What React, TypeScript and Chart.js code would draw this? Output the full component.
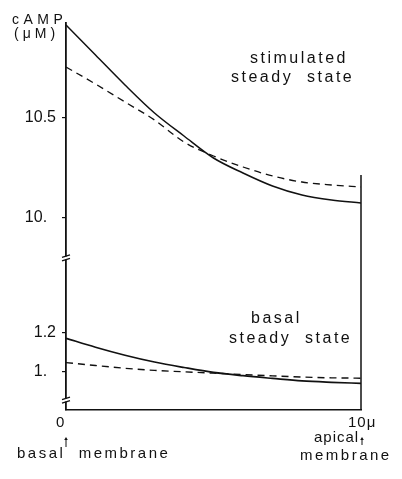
import React, { useEffect, useRef } from 'react';
import { Chart, registerables } from 'chart.js';

Chart.register(...registerables);

// ---- data ----
const positions = [0, 1, 2, 3, 4, 5, 6, 7, 8, 9, 10];
const stimulatedSolid = [10.965, 10.815, 10.665, 10.525, 10.41, 10.3, 10.225, 10.16, 10.115, 10.09, 10.075];
const stimulatedDashed = [10.755, 10.67, 10.58, 10.49, 10.38, 10.31, 10.255, 10.21, 10.18, 10.165, 10.155];
const basalSolid = [1.173, 1.127, 1.086, 1.051, 1.023, 0.998, 0.981, 0.967, 0.954, 0.947, 0.942];
const basalDashed = [1.048, 1.033, 1.019, 1.008, 1.001, 0.994, 0.987, 0.98, 0.974, 0.97, 0.968];

const lowerTickValues = [1.0, 1.2];
const lowerTickLabels = ['1.  ', '1.2'];
const upperTickValues = [10.0, 10.5];
const upperTickLabels = ['10.  ', '10.5'];
const xTickLabels = ['0', '10\u03bc'];

// ---- broken-axis mapping (lower segment ~1, upper segment ~10) ----
const LOWER_BASE = 1.0;
const LOWER_SCALE = 195;
const UPPER_BASE = 10.0;
const UPPER_SCALE = 200;
const UPPER_OFFSET = 154;
const toLower = (v: number) => (v - LOWER_BASE) * LOWER_SCALE;
const toUpper = (v: number) => UPPER_OFFSET + (v - UPPER_BASE) * UPPER_SCALE;

const Y_MIN = toLower(0.805);
const Y_MAX = toUpper(10.975);
const UPPER_BREAK = 9.8;
const LOWER_BREAK = 0.856;
const RIGHT_AXIS_TOP = 10.215;

const tickDefs = [
  ...lowerTickValues.map((v, i) => ({ d: toLower(v), label: lowerTickLabels[i] })),
  ...upperTickValues.map((v, i) => ({ d: toUpper(v), label: upperTickLabels[i] })),
];

const FONT = '"Liberation Sans", Arial, sans-serif';

function drawText(ctx: CanvasRenderingContext2D, text: string, x: number, y: number, size: number, spacing: number) {
  ctx.save();
  ctx.font = `${size}px ${FONT}`;
  (ctx as any).letterSpacing = `${spacing}px`;
  ctx.fillStyle = '#111';
  ctx.textAlign = 'left';
  ctx.textBaseline = 'alphabetic';
  ctx.fillText(text, x, y);
  ctx.restore();
}

function drawArrow(ctx: CanvasRenderingContext2D, x: number, top: number, bottom: number) {
  ctx.save();
  ctx.strokeStyle = '#111';
  ctx.fillStyle = '#111';
  ctx.lineWidth = 1;
  ctx.beginPath();
  ctx.moveTo(x, bottom);
  ctx.lineTo(x, top + 2);
  ctx.stroke();
  ctx.beginPath();
  ctx.moveTo(x - 1.8, top + 3);
  ctx.lineTo(x, top);
  ctx.lineTo(x + 1.8, top + 3);
  ctx.closePath();
  ctx.fill();
  ctx.restore();
}

function drawBreak(ctx: CanvasRenderingContext2D, x: number, y: number) {
  ctx.save();
  ctx.fillStyle = '#fff';
  ctx.fillRect(x - 2, y - 1.5, 4, 3);
  ctx.strokeStyle = '#111';
  ctx.lineWidth = 1.3;
  ctx.beginPath();
  ctx.moveTo(x - 4, y - 0.5);
  ctx.lineTo(x + 4, y - 3);
  ctx.moveTo(x - 4, y + 3);
  ctx.lineTo(x + 4, y + 0.5);
  ctx.stroke();
  ctx.restore();
}

const annotationPlugin = {
  id: 'annotations',
  afterDraw(chart: any) {
    const { ctx, scales } = chart;
    const xs = scales.x;
    const ys = scales.y;
    const x0 = xs.getPixelForValue(0);
    const x10 = xs.getPixelForValue(10);
    const bottom = ys.getPixelForValue(Y_MIN);

    // right axis line
    ctx.save();
    ctx.strokeStyle = '#111';
    ctx.lineWidth = 1.5;
    ctx.beginPath();
    ctx.moveTo(x10, ys.getPixelForValue(toUpper(RIGHT_AXIS_TOP)));
    ctx.lineTo(x10, bottom);
    ctx.stroke();
    ctx.restore();

    // axis breaks
    drawBreak(ctx, x0, ys.getPixelForValue(toUpper(UPPER_BREAK)));
    drawBreak(ctx, x0, ys.getPixelForValue(toLower(LOWER_BREAK)));

    // y title
    drawText(ctx, 'cAMP', 12, 24, 14, 4.5);
    drawText(ctx, '(\u03bcM)', 14, 38, 14, 4);

    // curve labels
    drawText(ctx, 'stimulated', 250, 63, 16, 2.5);
    drawText(ctx, 'steady  state', 231, 82, 16, 2.5);
    drawText(ctx, 'basal', 251, 323, 16, 2.5);
    drawText(ctx, 'steady  state', 229, 343, 16, 2.5);

    // x tick labels
    drawText(ctx, xTickLabels[0], x0 - 10, 427, 15, 0);
    drawText(ctx, xTickLabels[1], x10 - 13, 427, 15, 1);

    // arrows and membrane labels
    drawArrow(ctx, x0, 437, 447);
    drawArrow(ctx, x10 + 1, 437, 445);
    drawText(ctx, 'basal  membrane', 17, 458, 15, 2.5);
    drawText(ctx, 'apical', 314, 442, 15, 1);
    drawText(ctx, 'membrane', 300, 460, 15, 2.5);
  },
};

export default function App() {
  const canvasRef = useRef<HTMLCanvasElement | null>(null);

  useEffect(() => {
    document.body.style.margin = '0';
    const canvas = canvasRef.current;
    if (!canvas) return;

    const mk = (vals: number[], map: (v: number) => number) =>
      positions.map((x, i) => ({ x, y: map(vals[i]) }));

    const base = {
      pointRadius: 0,
      borderColor: '#111',
      fill: false,
      tension: 0.4,
      cubicInterpolationMode: 'monotone' as const,
    };

    const chart = new Chart(canvas, {
      type: 'line',
      data: {
        datasets: [
          { ...base, label: 'stimulated (solid)', data: mk(stimulatedSolid, toUpper), borderWidth: 1.5 },
          { ...base, label: 'stimulated (dashed)', data: mk(stimulatedDashed, toUpper), borderWidth: 1.3, borderDash: [7, 5] },
          { ...base, label: 'basal (solid)', data: mk(basalSolid, toLower), borderWidth: 1.7 },
          { ...base, label: 'basal (dashed)', data: mk(basalDashed, toLower), borderWidth: 1.4, borderDash: [7, 5] },
        ],
      },
      options: {
        animation: false,
        responsive: true,
        maintainAspectRatio: false,
        layout: { padding: { left: 0, right: 41, top: 23, bottom: 0 } },
        plugins: { legend: { display: false }, tooltip: { enabled: false }, title: { display: false } },
        scales: {
          x: {
            type: 'linear',
            min: 0,
            max: 10,
            grid: { display: false },
            border: { display: true, color: '#111', width: 1.6 },
            ticks: { display: false },
            afterFit: (scale: any) => { scale.height = 69; },
          },
          y: {
            type: 'linear',
            min: Y_MIN,
            max: Y_MAX,
            afterBuildTicks: (scale: any) => {
              scale.ticks = tickDefs.map((t) => ({ value: t.d }));
            },
            afterFit: (scale: any) => { scale.width = 66; },
            grid: { drawOnChartArea: false, drawTicks: true, tickLength: 4, color: '#111', lineWidth: 1.2 },
            border: { display: true, color: '#111', width: 1.8 },
            ticks: {
              color: '#111',
              padding: 6,
              font: { family: FONT, size: 16 },
              callback: (_v: any, i: number) => tickDefs[i]?.label ?? '',
            },
          },
        },
      },
      plugins: [annotationPlugin],
    });

    return () => chart.destroy();
  }, []);

  return (
    <div style={{ position: 'absolute', left: 0, top: 0, width: 402, height: 479, background: '#fff' }}>
      <canvas ref={canvasRef} />
    </div>
  );
}
